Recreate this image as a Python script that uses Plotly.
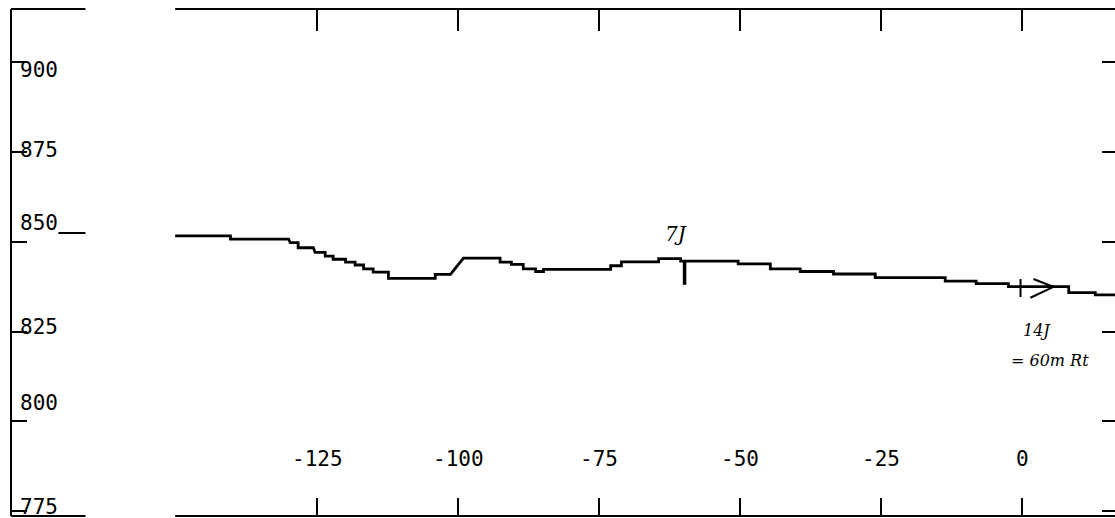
import plotly.graph_objects as go

# ---- data ----
# stepped ground profile: each run has a start station, end station and elevation
run_start = [-150.2, -140.4, -129.8, -128.4, -125.4, -123.6, -122.2, -120.0, -118.3,
             -116.8, -115.1, -112.4, -104.1, -99.1, -92.6, -90.6, -88.5, -86.3, -84.9,
             -73.0, -71.1, -64.5, -60.6, -50.4, -44.7, -39.4, -33.5, -26.1, -13.7,
             -8.2, -2.5, 8.2, 12.9]
run_end = [-140.4, -130.1, -128.4, -125.7, -123.6, -122.2, -120.0, -118.3, -116.8,
           -115.1, -112.4, -104.1, -101.4, -92.6, -90.6, -88.5, -86.3, -84.9, -73.0,
           -71.1, -64.5, -60.6, -50.4, -44.7, -39.4, -33.5, -26.1, -13.7, -8.2,
           -2.5, 8.2, 12.9, 16.4]
run_elev = [851.6, 850.7, 849.7, 848.3, 847.0, 846.0, 845.1, 844.3, 843.5,
            842.4, 841.5, 839.8, 840.9, 845.4, 844.3, 843.7, 842.4, 841.7, 842.3,
            843.3, 844.4, 845.3, 844.6, 843.8, 842.4, 841.7, 841.0, 840.0, 839.0,
            838.3, 837.5, 835.8, 835.2]

x_ticks = [-125, -100, -75, -50, -25, 0]
x_tick_labels = ["-125", "-100", "-75", "-50", "-25", "0"]
y_ticks = [775, 800, 825, 850, 875, 900]
y_tick_labels = ["775", "800", "825", "850", "875", "900"]

# marker at 7J
mark_7j_x = -59.9
mark_7j_y = [844.6, 838.0]

# ---- styling / layout ----
X_RANGE = [-179.3, 16.4]
Y_RANGE = [773.7, 914.7]
FONT = "DejaVu Sans Mono"
y_label_x = -174.3
y_label_shift = [4, 18, 5, 19, 2, -8]   # px offset of label above tick (plotter placement)
x_label_y = 789.6

px, py = [], []
for s, e, v in zip(run_start, run_end, run_elev):
    px += [s, e]
    py += [v, v]

fig = go.Figure()
fig.add_trace(go.Scatter(x=px, y=py, mode="lines",
                         line=dict(color="black", width=2.8), hoverinfo="skip",
                         showlegend=False))
fig.add_trace(go.Scatter(x=[mark_7j_x, mark_7j_x], y=mark_7j_y, mode="lines",
                         line=dict(color="black", width=3.5), showlegend=False))
# dummy trace so the mirrored axes exist
fig.add_trace(go.Scatter(x=[0], y=[850], xaxis="x2", yaxis="y2", mode="markers",
                         marker=dict(opacity=0), showlegend=False, hoverinfo="skip"))

axis_common = dict(showgrid=False, zeroline=False, showline=False,
                   ticks="inside", tickcolor="black", tickwidth=2,
                   showticklabels=False)

fig.update_layout(
    width=1115, height=518,
    margin=dict(l=11, r=0, t=9, b=2),
    paper_bgcolor="white", plot_bgcolor="white",
    xaxis=dict(range=X_RANGE, tickvals=x_ticks, ticklen=18, **axis_common),
    xaxis2=dict(range=X_RANGE, tickvals=x_ticks, ticklen=22, overlaying="x",
                side="top", **axis_common),
    yaxis=dict(range=Y_RANGE, tickvals=y_ticks, ticklen=16, **axis_common),
    yaxis2=dict(range=Y_RANGE, tickvals=y_ticks, ticklen=13, overlaying="y",
                side="right", **axis_common),
)

# frame (with the gaps seen in the scan)
frame = [
    dict(type="line", xref="paper", yref="paper", x0=0, x1=0, y0=0, y1=1),
    dict(type="line", xref="x", yref="paper", x0=X_RANGE[0], x1=-166.1, y0=1, y1=1),
    dict(type="line", xref="x", yref="paper", x0=-150.2, x1=X_RANGE[1], y0=1, y1=1),
    dict(type="line", xref="x", yref="paper", x0=X_RANGE[0], x1=-166.1, y0=0, y1=0),
    dict(type="line", xref="x", yref="paper", x0=-150.2, x1=X_RANGE[1], y0=0, y1=0),
    dict(type="line", xref="x", yref="y", x0=-170.9, x1=-166.1, y0=852.4, y1=852.4),
]
for f in frame:
    f["line"] = dict(color="black", width=2)
    fig.add_shape(**f)

# hand-drawn arrow near 14J
fig.add_shape(type="line", x0=-0.35, x1=-0.35, y0=839.6, y1=834.6,
              line=dict(color="black", width=2))
fig.add_shape(type="path", path="M 1.95 839.6 L 5.5 837.4 L 1.4 834.4",
              line=dict(color="black", width=2))

# tick labels (plotter-style, inside the frame)
for v, t, sh in zip(y_ticks, y_tick_labels, y_label_shift):
    fig.add_annotation(x=y_label_x, y=v, text=t, showarrow=False, yshift=sh,
                       font=dict(family=FONT, size=21, color="black"))
for v, t in zip(x_ticks, x_tick_labels):
    fig.add_annotation(x=v, y=x_label_y, text=t, showarrow=False,
                       font=dict(family=FONT, size=21, color="black"))

# handwritten notes
fig.add_annotation(x=-61.5, y=852.0, text="<i>7J</i>", showarrow=False,
                   font=dict(family="DejaVu Serif", size=20, color="black"))
fig.add_annotation(x=2.5, y=825.2, text="<i>14J</i>", showarrow=False,
                   font=dict(family="DejaVu Serif", size=16, color="black"))
fig.add_annotation(x=4.9, y=816.9, text="<i>= 60m Rt</i>", showarrow=False,
                   font=dict(family="DejaVu Serif", size=16, color="black"))

fig.write_html("out.html", config={"displayModeBar": False},
               post_script="document.body.style.margin='0';document.body.style.overflow='hidden';")
